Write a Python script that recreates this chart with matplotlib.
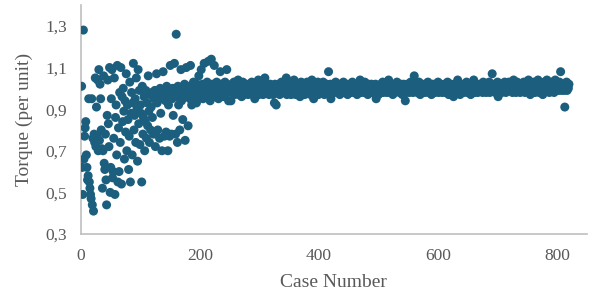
import matplotlib
matplotlib.use("Agg")
import matplotlib.pyplot as plt
import numpy as np
from matplotlib.ticker import FuncFormatter

# Torque (per unit) for each case
torque_early = [
    1.01, 0.62, 0.49, 1.28, 0.66, 0.77, 0.81, 0.84, 0.68, 0.62,
    0.56, 0.58, 0.95, 0.55, 0.52, 0.49, 0.47, 0.95, 0.44, 0.76,
    0.41, 0.78, 0.74, 1.05, 0.72, 0.91, 0.77, 1.04, 0.70, 1.09,
    0.75, 1.02, 0.95, 0.80, 0.71, 0.52, 0.70, 1.06, 0.64, 0.61,
    0.78, 0.56, 0.44, 0.87, 1.04, 0.83, 0.72, 1.10, 0.50, 0.62,
    0.95, 1.09, 0.57, 0.60, 0.76, 1.05, 0.49, 0.86, 0.92, 0.68,
    1.11, 0.55, 0.81, 0.60, 0.98, 0.74, 1.10, 0.54, 0.96, 0.84,
    1.00, 0.89, 0.66, 0.94, 0.79, 1.07, 0.70, 0.92, 0.85, 0.61,
    0.77, 1.03, 0.55, 0.88, 0.98, 0.68, 0.93, 1.12, 0.80, 0.87,
    0.95, 0.74, 1.05, 0.90, 0.65, 1.09, 0.83, 0.99, 0.73, 0.92,
    0.88, 0.55, 1.01, 0.78, 0.86, 0.96, 0.70, 0.84, 0.99, 0.76,
    0.93, 0.82, 1.06, 0.89, 0.74, 0.97, 0.80, 0.91, 0.98, 0.86,
]
torque_transition = [
    0.97, 0.78, 0.95, 0.99, 0.72, 0.96, 1.07, 0.93, 0.80, 0.98,
    0.96, 0.76, 1.00, 0.88, 0.97, 0.70, 0.95, 1.08, 0.98, 0.77,
    0.99, 0.94, 0.79, 1.01, 0.97, 0.70, 0.92, 0.96, 0.77, 1.11,
    0.98, 0.78, 0.95, 1.00, 0.87, 0.97, 1.12, 0.99, 0.78, 1.26,
    0.96, 0.74, 1.01, 0.92, 0.98, 0.80, 0.97, 1.09, 0.94, 1.00,
    0.85, 0.99, 0.97, 1.02, 0.75, 0.98, 1.10, 0.96, 1.00, 0.82,
    0.99, 1.01, 0.95, 1.11, 0.98, 0.92, 1.00, 0.97, 1.03, 0.99,
    0.96, 1.01, 0.99, 0.93, 1.02, 0.98, 1.00, 1.06, 0.97, 1.01,
    0.99, 1.09, 0.97, 1.02, 0.95, 1.00, 1.12, 0.98, 1.01, 0.96,
    1.00, 1.03, 0.97, 1.13, 0.99, 1.01, 0.94, 1.00, 1.14, 0.98,
    1.02, 0.97, 1.00, 1.11, 0.99, 0.96, 1.01, 1.03, 0.98, 1.00,
    0.95, 1.01, 0.99, 1.08, 0.97, 1.02, 1.00, 0.98, 0.96, 1.01,
    0.99, 1.03, 0.97, 1.00, 1.09, 0.98, 1.01, 0.94, 1.00, 0.99,
]
torque_steady = [
    1.00, 0.94, 1.02, 0.98, 1.01, 0.99, 1.03, 0.97, 1.00, 1.02,
    0.98, 1.01, 0.99, 1.04, 0.97, 1.00, 1.02, 0.98, 1.01, 0.96,
    1.00, 1.03, 0.99, 0.97, 1.01, 1.00, 0.98, 1.02, 0.99, 1.01,
    0.97, 1.00, 1.02, 0.99, 1.01, 0.98, 1.03, 1.00, 0.97, 1.01,
    0.99, 0.95, 1.01, 1.00, 0.98, 1.02, 0.99, 1.04, 0.97, 1.00,
    1.01, 0.98, 1.00, 1.02, 0.99, 0.97, 1.01, 1.03, 1.05, 0.99,
    1.00, 1.02, 0.98, 1.01, 0.99, 0.97, 1.00, 1.02, 0.98, 1.01,
    0.99, 1.01, 0.97, 1.00, 0.93, 1.02, 0.99, 0.92, 1.01, 0.98,
    1.00, 1.02, 0.99, 0.97, 1.01, 1.00, 1.03, 0.98, 1.00, 1.01,
    0.98, 1.00, 1.02, 0.99, 1.05, 0.97, 1.01, 1.00, 0.98, 1.02,
    1.01, 0.99, 0.97, 1.00, 1.02, 0.98, 1.01, 1.04, 0.99, 1.00,
    0.97, 1.01, 1.00, 0.98, 1.02, 0.99, 1.01, 0.96, 1.00, 1.03,
    0.99, 1.01, 0.98, 1.00, 1.02, 0.97, 1.00, 1.01, 0.99, 1.03,
    1.00, 0.98, 1.01, 0.99, 1.02, 0.97, 1.00, 1.04, 0.98, 1.01,
    0.95, 1.00, 1.02, 0.99, 1.01, 0.98, 1.00, 1.03, 0.97, 1.01,
    0.99, 1.02, 1.00, 0.98, 1.01, 0.99, 1.03, 1.00, 0.97, 1.01,
    1.00, 0.98, 1.02, 0.99, 1.01, 1.08, 1.00, 0.97, 1.02, 0.95,
    1.01, 0.99, 1.00, 1.02, 0.98, 1.01, 0.99, 1.03, 1.00, 0.98,
    1.00, 1.02, 0.99, 1.01, 0.97, 1.00, 1.02, 0.98, 1.01, 0.99,
    1.03, 1.00, 0.98, 1.01, 0.99, 1.02, 1.00, 0.97, 1.01, 1.00,
    0.99, 1.02, 1.00, 0.98, 1.01, 1.03, 0.99, 1.00, 0.98, 1.02,
    1.00, 0.99, 1.01, 0.97, 1.00, 1.02, 0.99, 1.01, 1.04, 1.00,
    0.98, 1.01, 0.99, 1.02, 1.00, 0.98, 1.03, 1.00, 0.99, 1.01,
    1.00, 0.97, 1.02, 0.99, 1.01, 1.00, 0.98, 1.02, 0.99, 1.01,
    1.00, 0.98, 1.01, 0.99, 1.02, 0.95, 1.00, 0.99, 1.01, 0.97,
    1.01, 1.00, 0.98, 1.02, 0.99, 1.00, 1.03, 0.98, 1.01, 1.00,
    0.99, 1.02, 1.00, 0.98, 1.01, 0.99, 1.04, 1.00, 0.98, 1.01,
    1.00, 0.99, 1.02, 0.97, 1.01, 1.00, 0.98, 1.02, 0.99, 1.01,
    1.03, 1.00, 0.99, 1.01, 0.98, 1.00, 1.02, 0.99, 1.01, 0.97,
    1.00, 1.02, 0.99, 1.01, 0.94, 1.00, 0.98, 1.02, 1.00, 0.99,
    1.01, 0.98, 1.00, 1.03, 0.99, 1.01, 1.00, 0.98, 1.02, 1.06,
    1.00, 0.99, 1.02, 1.00, 0.98, 1.01, 0.99, 1.03, 1.00, 0.97,
    1.01, 1.00, 0.98, 1.02, 0.99, 1.01, 1.00, 0.98, 1.02, 1.00,
    0.99, 1.01, 1.03, 0.98, 1.00, 1.02, 0.99, 1.01, 0.97, 1.00,
    1.02, 0.99, 1.01, 1.00, 0.98, 1.02, 1.00, 0.99, 1.01, 1.03,
    0.98, 1.00, 1.01, 0.99, 1.02, 1.00, 0.98, 1.01, 0.99, 1.00,
    1.02, 0.98, 1.00, 1.01, 0.99, 1.03, 1.00, 0.97, 1.01, 1.00,
    0.99, 1.02, 1.00, 0.98, 1.01, 0.96, 1.00, 1.02, 0.99, 1.01,
    1.00, 0.98, 1.04, 1.00, 0.99, 1.01, 0.97, 1.00, 1.02, 0.99,
    1.01, 1.00, 0.98, 1.02, 1.00, 0.99, 1.01, 1.03, 0.98, 1.00,
    1.02, 0.99, 1.00, 1.01, 0.97, 1.00, 1.02, 0.99, 1.01, 1.04,
    1.00, 0.98, 1.01, 0.99, 1.02, 1.00, 0.98, 1.01, 1.00, 0.99,
    1.02, 1.00, 0.99, 1.01, 0.98, 1.03, 1.00, 0.99, 1.01, 1.00,
    0.98, 1.02, 1.00, 0.99, 1.01, 1.03, 0.98, 1.00, 1.02, 0.99,
    1.07, 1.00, 1.01, 0.99, 1.02, 0.98, 1.00, 1.01, 0.99, 1.03,
    0.96, 1.00, 1.02, 0.99, 1.01, 1.00, 0.98, 1.02, 1.00, 0.99,
    1.01, 1.03, 1.00, 0.98, 1.02, 0.99, 1.01, 1.00, 1.03, 0.99,
    1.00, 1.02, 0.99, 1.01, 0.98, 1.00, 1.04, 0.99, 1.01, 1.00,
    0.98, 1.01, 1.03, 1.00, 0.99, 1.02, 1.00, 0.98, 1.01, 1.00,
    1.02, 0.99, 1.01, 1.03, 1.00, 0.98, 1.01, 1.00, 1.02, 0.99,
    1.00, 1.04, 0.99, 1.01, 0.97, 1.00, 1.02, 1.00, 0.99, 1.01,
    1.03, 1.00, 0.98, 1.02, 1.00, 0.99, 1.01, 1.04, 1.00, 0.98,
    1.01, 1.00, 1.02, 0.99, 1.01, 0.97, 1.00, 1.03, 0.99, 1.01,
    1.00, 1.02, 1.04, 0.99, 1.01, 1.00, 0.98, 1.02, 1.00, 1.03,
    0.99, 1.01, 1.00, 1.02, 0.98, 1.01, 1.04, 1.00, 0.99, 1.02,
    1.00, 1.01, 0.99, 1.03, 1.00, 1.08, 1.02, 0.99, 1.01, 1.00,
    1.02, 0.99, 0.91, 1.01, 1.00, 1.03, 0.99, 1.01, 1.00, 1.02,
]
torque = torque_early + torque_transition + torque_steady
case_number = np.arange(1, len(torque) + 1)

x_ticks = [0, 200, 400, 600, 800]
y_ticks = [0.3, 0.5, 0.7, 0.9, 1.1, 1.3]

plt.rcParams['font.family'] = ['Liberation Serif', 'DejaVu Serif']

fig = plt.figure(figsize=(6, 3), dpi=100)
ax = fig.add_axes([0.135, 0.22, 0.843, 0.763])

ax.scatter(case_number, torque, s=42, color='#1b5e7d', edgecolors='none', zorder=3)

ax.set_xlim(0, 850)
ax.set_ylim(0.3, 1.4)
ax.set_xticks(x_ticks)
ax.set_yticks(y_ticks)
ax.yaxis.set_major_formatter(FuncFormatter(lambda v, p: f"{v:.1f}".replace('.', ',')))

for side in ['top', 'right']:
    ax.spines[side].set_visible(False)
for side in ['left', 'bottom']:
    ax.spines[side].set_color('#bfbfbf')
    ax.spines[side].set_linewidth(1.2)

ax.tick_params(axis='both', length=0, labelsize=12.5, labelcolor='#595959')
ax.tick_params(axis='x', pad=10)
ax.tick_params(axis='y', pad=10)

ax.set_xlabel('Case Number', fontsize=14, color='#595959', labelpad=7)
ax.set_ylabel('Torque (per unit)', fontsize=14, color='#595959', labelpad=9)

fig.savefig('out.png', dpi=100)
